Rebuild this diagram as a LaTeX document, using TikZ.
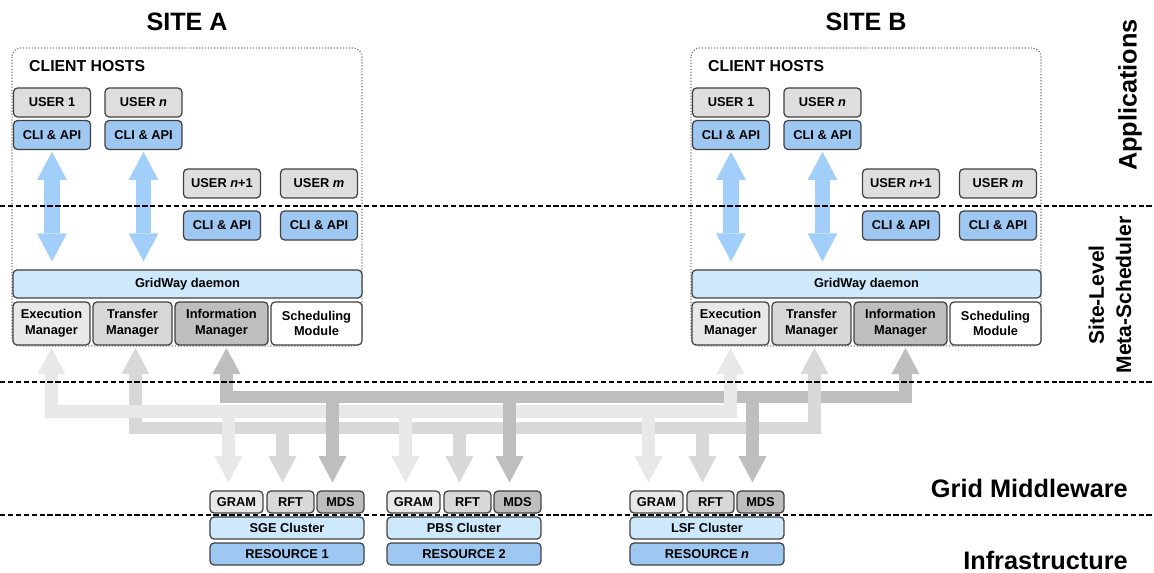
\documentclass[tikz,border=0pt]{standalone}
\usepackage{fontspec}
\setmainfont{Liberation Sans}
\usepackage{tikz}
\usetikzlibrary{arrows.meta}

\definecolor{boxline}{RGB}{64,64,64}
\definecolor{usergray}{RGB}{222,222,222}
\definecolor{cliblue}{RGB}{158,200,242}
\definecolor{paleblue}{RGB}{206,232,252}
\definecolor{arrowblue}{RGB}{162,206,250}
\definecolor{graylight}{RGB}{232,232,232}
\definecolor{graymid}{RGB}{216,216,216}
\definecolor{graydark}{RGB}{190,190,190}

\newcommand{\bxfont}{\fontsize{7.3}{8.9}\selectfont\bfseries}
\newcommand{\hostfont}{\fontsize{9}{11}\selectfont\bfseries}
\newcommand{\sitefont}{\fontsize{14.3}{16}\selectfont\bfseries}
\newcommand{\lyfont}{\fontsize{14.4}{16}\selectfont\bfseries}
\newcommand{\mtfont}{\fontsize{12}{15.5}\selectfont\bfseries}

\begin{document}
\begin{tikzpicture}
	[x=0.02cm, y=-0.02cm,%
	box/.style     ={rectangle,	rounded corners=2.3pt,	draw=boxline,	line width=0.7pt,	inner sep=0pt,	font=\bxfont,	align=center},%
	user/.style    ={box,	fill=usergray,	minimum width=1.54cm,	minimum height=0.58cm},%
	cli/.style     ={box,	fill=cliblue,	minimum width=1.54cm,	minimum height=0.58cm},%
	manager/.style ={box,	minimum height=0.86cm},%
	small/.style   ={box,	minimum height=0.44cm},%
	site/.style    ={draw=gray,	densely dotted,	line width=0.7pt,	rounded corners=5pt},%
	layer/.style   ={dash pattern=on 3pt off 1.5pt,	line width=0.6pt},%
	clilink/.style ={draw=arrowblue,	line width=9pt,	<->,	>={Triangle[width=17pt,length=16pt,line width=0pt]},	shorten <=1pt,	shorten >=4.5pt},%
	flow/.style    ={draw=#1,	line width=7pt,	>={Triangle[width=16pt,length=15pt,line width=0pt]}},%
	]

	\useasboundingbox (0,0) rectangle (1154,573);

	\newcommand\offB{679}

	% sites
	\foreach \s/\dx in {A/0, B/\offB} {
		\draw [site] (12+\dx,48) rectangle (362+\dx,346);
		\node (title\s) at (187+\dx,22) [font=\sitefont] {SITE \s};
		\node (hosts\s) at (23+\dx,66) [anchor=west, font=\hostfont] {CLIENT HOSTS};

		\node (userA\s) at (52+\dx,102.5)    [user] {USER 1};
		\node (userB\s) at (143.5+\dx,102.5) [user] {USER \textit{n}};
		\node (userC\s) at (222+\dx,183.5)   [user] {USER \textit{n}+1};
		\node (userD\s) at (319+\dx,183.5)   [user] {USER \textit{m}};

		\node (cliA\s) at (52+\dx,135)      [cli] {CLI \& API};
		\node (cliB\s) at (143.5+\dx,135)   [cli] {CLI \& API};
		\node (cliC\s) at (222+\dx,225.5)   [cli] {CLI \& API};
		\node (cliD\s) at (319+\dx,225.5)   [cli] {CLI \& API};

		\node (daemon\s) at (187.5+\dx,284) [box, fill=paleblue, minimum width=6.98cm, minimum height=0.56cm] {GridWay daemon};

		\node (exec\s)  at (51.5+\dx,323.5)  [manager, fill=graylight, minimum width=1.54cm] {Execution\\Manager};
		\node (trans\s) at (132.5+\dx,323.5) [manager, fill=graymid,   minimum width=1.58cm] {Transfer\\Manager};
		\node (info\s)  at (221.5+\dx,323.5) [manager, fill=graydark,  minimum width=1.86cm] {Information\\Manager};
		\node (sched\s) at (316.5+\dx,323.5) [manager, fill=white,     minimum width=1.82cm] {Scheduling\\Module};

		% client links
		\draw [clilink] (cliA\s.south) -- (cliA\s.south |- daemon\s.north);
		\draw [clilink] (cliB\s.south) -- (cliB\s.south |- daemon\s.north);
	}

	% resources
	\foreach \r/\dx/\lrms/\rid in {1/0/SGE/1, 2/177/PBS/2, 3/420/LSF/\textit{n}} {
		\node (gram\r) at (236.5+\dx,502) [small, fill=graylight, minimum width=1.06cm] {GRAM};
		\node (rft\r)  at (290.5+\dx,502) [small, fill=graymid,   minimum width=0.94cm] {RFT};
		\node (mds\r)  at (340.5+\dx,502) [small, fill=graydark,  minimum width=0.94cm] {MDS};
		\node (lrms\r) at (287+\dx,528)   [small, fill=paleblue,  minimum width=3.08cm] {\lrms{} Cluster};
		\node (res\r)  at (287+\dx,554)   [small, fill=cliblue,   minimum width=3.08cm] {RESOURCE \rid};
	}

	% layer labels
	\node (lApp)  at (1130,95)  [rotate=90, font=\lyfont] {Applications};
	\node (lMeta) at (1110,295) [rotate=90, align=center, font=\mtfont] {Site-Level\\Meta-Scheduler};
	\node (lMid)  at (1134,488) [anchor=east, font=\lyfont] {Grid Middleware};
	\node (lInf)  at (1134,560) [anchor=east, font=\lyfont] {Infrastructure};

	% interconnections
	\coordinate (busI) at (0,397);
	\coordinate (busE) at (0,411.5);
	\coordinate (busT) at (0,428);

	% information manager <-> MDS
	\draw [flow=graydark, <->, shorten <=1.3pt, shorten >=1.3pt] ([xshift=0.1cm]infoA.south) -- ([xshift=0.1cm]infoA.south |- busI) -| ([xshift=0.1cm]infoB.south);

	% transfer manager <-> RFT
	\draw [flow=graymid, <->, shorten <=1.3pt, shorten >=1.3pt] ([xshift=0.06cm]transA.south) -- ([xshift=0.06cm]transA.south |- busT) -| ([xshift=0.06cm]transB.south);
	\foreach \r in {1,2,3}
		\draw [flow=graymid, ->, shorten >=4.5pt] ([xshift=-0.16cm]rft\r.north |- busT) -- ([xshift=-0.16cm]rft\r.north);

	% execution manager <-> GRAM
	\draw [flow=graylight, <->, shorten <=1.3pt, shorten >=1.3pt] (execA.south) -- (execA.south |- busE) -| (execB.south);
	\foreach \r in {1,2,3}
		\draw [flow=graylight, ->, shorten >=4.5pt] ([xshift=-0.16cm]gram\r.north |- busE) -- ([xshift=-0.16cm]gram\r.north);

	\foreach \r in {1,2,3}
		\draw [flow=graydark, ->, shorten >=4.5pt] ([xshift=-0.16cm]mds\r.north |- busI) -- ([xshift=-0.16cm]mds\r.north);

	% layers
	\foreach \y in {206, 382, 515}
		\draw [layer] (0,\y) -- (1154,\y);

\end{tikzpicture}
\end{document}
